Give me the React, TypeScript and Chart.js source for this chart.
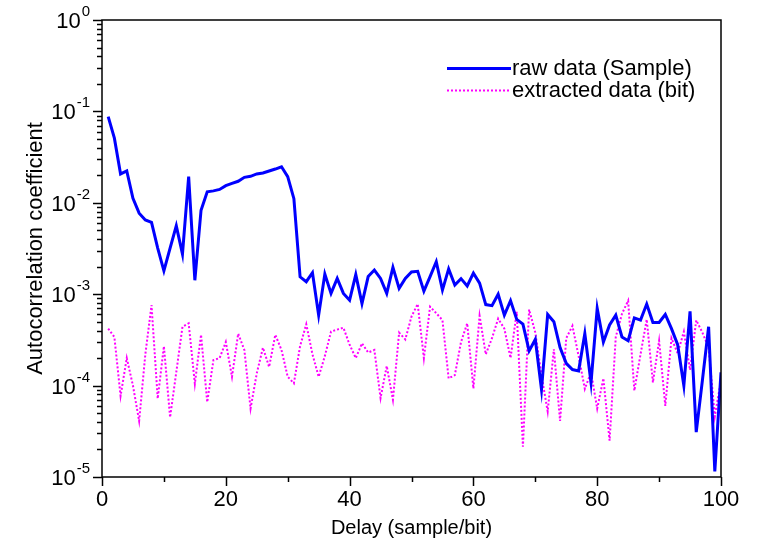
import React, { useEffect, useRef } from "react";
import { Chart, registerables } from "chart.js";
Chart.register(...registerables);

const delays = [
  1, 2, 3, 4, 5, 6, 7, 8, 9, 10, 11, 12, 13, 14, 15, 16, 17, 18, 19, 20,
  21, 22, 23, 24, 25, 26, 27, 28, 29, 30, 31, 32, 33, 34, 35, 36, 37, 38, 39, 40,
  41, 42, 43, 44, 45, 46, 47, 48, 49, 50, 51, 52, 53, 54, 55, 56, 57, 58, 59, 60,
  61, 62, 63, 64, 65, 66, 67, 68, 69, 70, 71, 72, 73, 74, 75, 76, 77, 78, 79, 80,
  81, 82, 83, 84, 85, 86, 87, 88, 89, 90, 91, 92, 93, 94, 95, 96, 97, 98, 99, 100,
];

const rawData = [
  0.0875, 0.051, 0.0207, 0.0223, 0.0112, 0.0077, 0.0065, 0.0061, 0.0032, 0.0018,
  0.0032, 0.0056, 0.00275, 0.0193, 0.00142, 0.0083, 0.0132, 0.0135, 0.014, 0.0154,
  0.0163, 0.0172, 0.019, 0.0195, 0.0207, 0.0212, 0.0223, 0.0234, 0.0248, 0.0193,
  0.0111, 0.00155, 0.00137, 0.00172, 0.00059, 0.00166, 0.00102, 0.00149, 0.00102, 0.00086,
  0.00164, 0.00079, 0.00156, 0.00184, 0.00149, 0.00102, 0.00197, 0.00116, 0.00149, 0.00175,
  0.00178, 0.00108, 0.00156, 0.00227, 0.00111, 0.00189, 0.00126, 0.00148, 0.00123, 0.0017,
  0.00132, 0.00077, 0.00075, 0.001, 0.00059, 0.00085, 0.00053, 0.00047, 0.00024, 0.00032,
  0.000091, 0.0006, 0.0005, 0.00026, 0.000175, 0.00015, 0.000145, 0.00037, 0.000108, 0.0007,
  0.0003, 0.00046, 0.00059, 0.00034, 0.00031, 0.00055, 0.00052, 0.00078, 0.00049, 0.00049,
  0.0006, 0.00042, 0.00028, 0.0001, 0.00065, 0.000031, 0.000115, 0.00044, 0.0000115, 0.00014,
];

const extractedData = [
  0.00042, 0.00034, 0.000077, 0.0002, 0.0001, 0.000041, 0.00022, 0.00076, 0.000072, 0.00027,
  0.000045, 0.00014, 0.00044, 0.00048, 0.000105, 0.00036, 0.000066, 0.00019, 0.0002, 0.0003,
  0.000125, 0.00037, 0.000245, 0.000056, 0.000136, 0.00026, 0.00016, 0.00036, 0.000245, 0.000125,
  0.000106, 0.00027, 0.00047, 0.00022, 0.000125, 0.00021, 0.00039, 0.00041, 0.00043, 0.00028,
  0.0002, 0.00029, 0.00023, 0.000245, 0.000073, 0.000164, 0.00007, 0.00038, 0.00032, 0.00057,
  0.00078, 0.0002, 0.00073, 0.00062, 0.00052, 0.00012, 0.00013, 0.0003, 0.00048, 0.000093,
  0.00058, 0.00022, 0.00033, 0.00054, 0.00042, 0.0002, 0.00064, 0.0000215, 0.00068, 0.00038,
  0.00013, 0.000052, 0.00025, 0.000041, 0.00033, 0.00045, 0.00021, 0.000092, 0.00014, 0.000056,
  0.00012, 0.000025, 0.00034, 0.00061, 0.00085, 0.000088, 0.00022, 0.00053, 0.000108, 0.00031,
  0.00006, 0.00033, 0.000225, 0.00039, 0.000148, 0.00052, 0.00038, 0.00026, 0.000046, 0.000115,
];

const seriesNames = ["raw data (Sample)", "extracted data (bit)"];
const xMajorTicks = [0, 20, 40, 60, 80, 100];
const xMinorTicks = [10, 30, 50, 70, 90];
const yExponents = [0, -1, -2, -3, -4, -5];
const xTitle = "Delay (sample/bit)";
const yTitle = "Autocorrelation coefficient";

const FONT = '"Liberation Sans", Arial, sans-serif';

const axesPlugin = {
  id: "customAxes",
  afterDraw(chart: any) {
    const ctx = chart.ctx;
    const { left, right, top, bottom } = chart.chartArea;
    const xs = chart.scales.x;
    const ys = chart.scales.y;
    ctx.save();
    ctx.strokeStyle = "#000";
    ctx.fillStyle = "#000";
    ctx.lineWidth = 1.5;
    ctx.strokeRect(left, top, right - left, bottom - top);

    for (const v of xMajorTicks) {
      const px = Math.round(xs.getPixelForValue(v)) + 0.5;
      ctx.beginPath();
      ctx.moveTo(px, bottom);
      ctx.lineTo(px, bottom + 9);
      ctx.stroke();
    }
    for (const v of xMinorTicks) {
      const px = Math.round(xs.getPixelForValue(v)) + 0.5;
      ctx.beginPath();
      ctx.moveTo(px, bottom);
      ctx.lineTo(px, bottom + 5);
      ctx.stroke();
    }
    for (const e of yExponents) {
      const py = Math.round(ys.getPixelForValue(Math.pow(10, e))) + 0.5;
      ctx.beginPath();
      ctx.moveTo(left, py);
      ctx.lineTo(left - 9, py);
      ctx.stroke();
      if (e > -5) {
        for (let m = 2; m <= 9; m++) {
          const v = m * Math.pow(10, e - 1);
          const p = Math.round(ys.getPixelForValue(v)) + 0.5;
          ctx.beginPath();
          ctx.moveTo(left, p);
          ctx.lineTo(left - 5, p);
          ctx.stroke();
        }
      }
    }

    ctx.font = "22px " + FONT;
    ctx.textAlign = "center";
    ctx.textBaseline = "alphabetic";
    for (const v of xMajorTicks) {
      const px = xs.getPixelForValue(v);
      ctx.fillText(String(v), px, bottom + 29);
    }
    for (const e of yExponents) {
      const py = ys.getPixelForValue(Math.pow(10, e));
      ctx.font = "22px " + FONT;
      const base = "10";
      const wb = ctx.measureText(base).width;
      ctx.font = "15px " + FONT;
      const exp = String(e);
      const we = ctx.measureText(exp).width;
      const rightEdge = left - 12;
      ctx.textAlign = "left";
      ctx.font = "22px " + FONT;
      ctx.fillText(base, rightEdge - we - wb - 1, py + 8);
      ctx.font = "15px " + FONT;
      ctx.fillText(exp, rightEdge - we, py - 4);
    }

    ctx.font = "20px " + FONT;
    ctx.textAlign = "center";
    ctx.fillText(xTitle, (left + right) / 2, bottom + 57);
    ctx.save();
    ctx.font = "22px " + FONT;
    ctx.translate(42, (top + bottom) / 2);
    ctx.rotate(-Math.PI / 2);
    ctx.fillText(yTitle, 0, 0);
    ctx.restore();

    const ds = chart.data.datasets;
    const lx0 = 447, lx1 = 511;
    const rows = [68, 90];
    ctx.font = "22px " + FONT;
    ctx.textAlign = "left";
    ctx.textBaseline = "middle";
    ds.forEach((d: any, i: number) => {
      const y = rows[i] + 0.5;
      ctx.save();
      ctx.strokeStyle = d.borderColor;
      ctx.lineWidth = d.borderWidth;
      ctx.setLineDash(d.borderDash || []);
      ctx.beginPath();
      ctx.moveTo(lx0, y);
      ctx.lineTo(lx1, y);
      ctx.stroke();
      ctx.restore();
      ctx.fillStyle = "#000";
      ctx.fillText(d.label, lx1 + 1, rows[i] + 1);
    });
    ctx.restore();
  },
};

export default function App() {
  const ref = useRef<HTMLCanvasElement | null>(null);
  useEffect(() => {
    if (!ref.current) return;
    const chart = new Chart(ref.current, {
      type: "line",
      data: {
        datasets: [
          {
            label: seriesNames[0],
            data: delays.map((x, i) => ({ x, y: rawData[i] })),
            borderColor: "#0000ff",
            borderWidth: 3,
            pointRadius: 0,
            tension: 0,
            fill: false,
          },
          {
            label: seriesNames[1],
            data: delays.map((x, i) => ({ x, y: extractedData[i] })),
            borderColor: "#ff00ff",
            borderWidth: 2,
            borderDash: [2, 2],
            pointRadius: 0,
            tension: 0,
            fill: false,
          },
        ],
      },
      options: {
        animation: false,
        responsive: false,
        devicePixelRatio: 1,
        layout: { padding: { left: 102, right: 36, top: 20, bottom: 71 } },
        plugins: { legend: { display: false }, tooltip: { enabled: false } },
        scales: {
          x: { type: "linear", min: 0, max: 100, display: false },
          y: { type: "logarithmic", min: 1e-5, max: 1, display: false },
        },
      },
      plugins: [axesPlugin],
    });
    return () => chart.destroy();
  }, []);
  return (
    <div style={{ position: "absolute", left: 0, top: 0, width: 757, height: 548, background: "#fff" }}>
      <canvas ref={ref} width={757} height={548} style={{ width: 757, height: 548 }} />
    </div>
  );
}
